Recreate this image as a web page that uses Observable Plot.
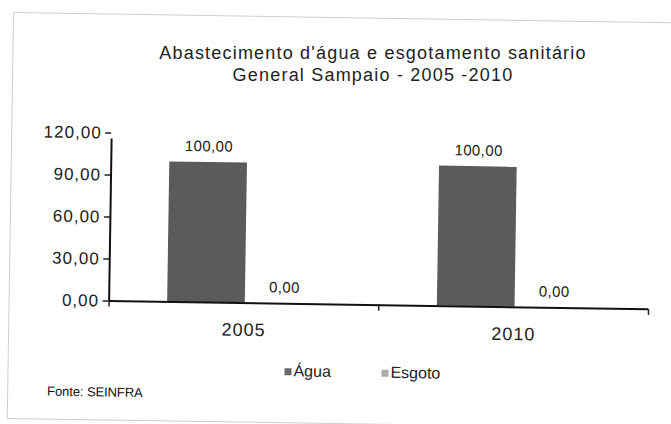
<!DOCTYPE html>
<html>
<head>
<meta charset="utf-8">
<script src="https://cdn.jsdelivr.net/npm/d3@7"></script>
<script src="https://cdn.jsdelivr.net/npm/@observablehq/plot@0.6"></script>
<style>
  html, body { margin: 0; padding: 0; background: #fff; }
  #wrap { position: relative; width: 671px; height: 424px; overflow: hidden; font-family: "Liberation Sans", Arial, sans-serif; }
  #page {
    position: absolute; left: 0; top: 0; width: 671px; height: 424px;
    color: #222;
    transform: rotate(0.89deg); transform-origin: 335.5px 212px;
  }
  #border {
    position: absolute; left: 10px; top: 17px; width: 690px; height: 407px;
    border: 1.5px solid #cfcfcf; box-sizing: border-box;
  }
  #title {
    position: absolute; left: 123px; width: 500px; top: 43px; text-align: center;
    font-size: 18px; line-height: 21.5px; letter-spacing: 1.2px; color: #222;
  }
  #chart { position: absolute; left: 0; top: 100px; }
  #chart svg { color: #222; overflow: visible; }
  #chart g[aria-label="y-axis tick label"] text { letter-spacing: 1px; }
  #chart g[aria-label="x-axis tick label"] text { letter-spacing: 1px; }
  #chart g[aria-label="text"] text { letter-spacing: 0.4px; }
  .lg { position: absolute; font-size: 16px; line-height: 16px; top: 364px; color: #222; }
  .sw { position: absolute; width: 7px; height: 7px; top: 369px; }
  #fonte { position: absolute; left: 50px; top: 389px; font-size: 13px; line-height: 14px; letter-spacing: -0.1px; color: #111; }
</style>
</head>
<body>
<div id="wrap">
  <div id="page">
    <div id="border"></div>
    <div id="chart"></div>
    <div id="legend"></div>
    <div id="fonte"></div>
  </div>
  <div id="title"></div>
</div>
<script>
const titleLines = ["Abastecimento d'água e esgotamento sanitário", "General Sampaio - 2005 -2010"];
const years = ["2005", "2010"];
const series = ["Água", "Esgoto"];
const agua = [100, 100];
const esgoto = [0, 0];
const yTicks = [0, 30, 60, 90, 120];
const colors = ["#5b5b5b", "#a8a8a8"];
const swatchColors = ["#6a6a6a", "#ababab"];
const source = "Fonte: SEINFRA";

const values = [agua, esgoto];
const rows = years.flatMap((y, i) => series.map((s, j) => ({year: y, yi: i, series: s, si: j, value: values[j][i]})));

const groupStart = 0.217, barW = 0.288;
const fmt = v => d3.format(".2f")(v).replace(".", ",");
const x1 = d => d.yi + groupStart + d.si * barW;
const x2 = d => x1(d) + barW;
const xc = d => x1(d) + barW / 2;

document.getElementById("title").innerHTML = titleLines.map(t => `<div>${t}</div>`).join("");

const plot = Plot.plot({
  width: 671,
  height: 250,
  marginTop: 36,
  marginBottom: 46,
  marginLeft: 110,
  marginRight: 21.5,
  style: {background: "transparent", fontFamily: "Liberation Sans, Arial, sans-serif"},
  x: {domain: [0, years.length], axis: null},
  y: {domain: [0, 120], axis: null},
  color: {domain: series, range: colors},
  marks: [
    Plot.rectY(rows, {x1, x2, y: "value", fill: "series"}),
    Plot.axisY({ticks: yTicks, tickFormat: fmt, tickSize: 6, tickPadding: 4, fontSize: 17, strokeWidth: 1.5, label: null}),
    Plot.axisX({ticks: d3.range(years.length + 1), tickFormat: () => "", tickSize: 6, strokeWidth: 1.5, label: null}),
    Plot.axisX({ticks: years.map((d, i) => i + 0.5), tickFormat: t => years[Math.floor(t)], tickSize: 0, tickPadding: 20, fontSize: 18, label: null}),
    Plot.ruleY([0], {stroke: "#111", strokeWidth: 2}),
    Plot.ruleX([0], {y1: 0, y2: 120, stroke: "#111", strokeWidth: 2, insetBottom: -6}),
    Plot.text(rows, {x: xc, y: "value", text: d => fmt(d.value), dy: -16, fontSize: 15, fill: "#222"})
  ]
});
document.getElementById("chart").appendChild(plot);

const legend = document.getElementById("legend");
const lgPos = [[287, 296], [384, 393]];
series.forEach((s, i) => {
  const sw = document.createElement("div");
  sw.className = "sw"; sw.style.left = lgPos[i][0] + "px"; sw.style.background = swatchColors[i];
  const t = document.createElement("div");
  t.className = "lg"; t.style.left = lgPos[i][1] + "px"; t.textContent = s;
  legend.appendChild(sw); legend.appendChild(t);
});
document.getElementById("fonte").textContent = source;
</script>
</body>
</html>
